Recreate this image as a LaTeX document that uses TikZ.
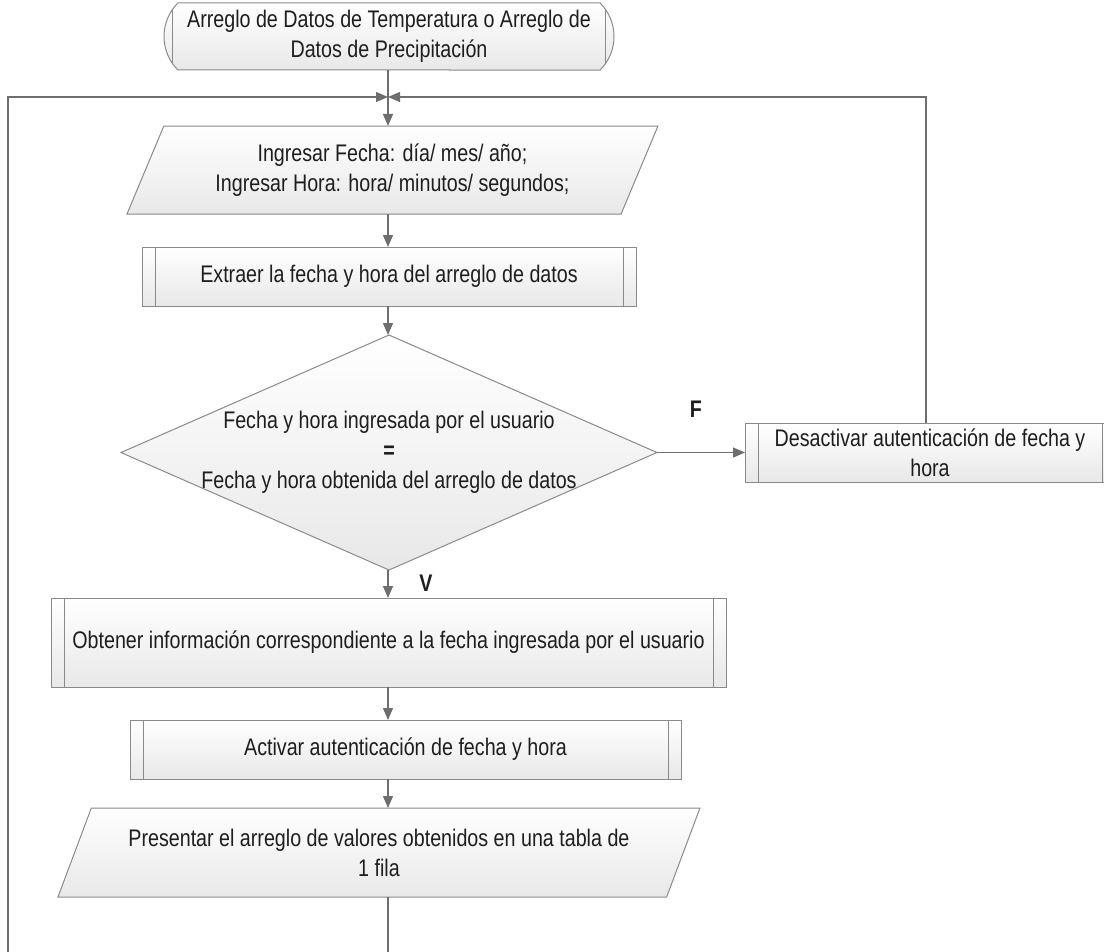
\documentclass[tikz,border=0pt]{standalone}
\usepackage{fontspec}
\setmainfont{Liberation Sans}[FakeStretch=0.82]
\usetikzlibrary{shapes.geometric,shapes.misc,arrows.meta,positioning,calc}
\definecolor{linegray}{HTML}{6E6E6E}
\definecolor{boxgray}{HTML}{8A8A8A}
\definecolor{txtgray}{HTML}{1E1E1E}
\definecolor{shadegray}{HTML}{E8E8E8}
\newcommand{\sidebars}[1]{%
  \draw[boxgray,line width=1pt]
    ([xshift=#1]path picture bounding box.north west) -- ([xshift=#1]path picture bounding box.south west)
    ([xshift=-#1]path picture bounding box.north east) -- ([xshift=-#1]path picture bounding box.south east);}
\tikzset{
  flow/.style={draw=linegray,line width=1.3pt,-{Triangle[length=12pt,width=10pt]}},
  link/.style={draw=linegray,line width=1.3pt},
  base/.style={draw=boxgray,line width=1pt,top color=white,bottom color=shadegray,
    text=txtgray,align=center,inner sep=0pt,outer sep=0pt,
    font=\fontsize{24}{30}\selectfont},
  proc/.style args={#1,#2}{base,rectangle,minimum width=#1pt,minimum height=#2pt,
    path picture={\sidebars{13pt}}},
  io/.style args={#1,#2}{base,trapezium,trapezium left angle=55,trapezium right angle=125,
    trapezium stretches body,minimum width=#1pt,minimum height=#2pt},
  decision/.style={base,diamond,shape aspect=2.28,inner xsep=-25pt,
    minimum width=536pt,minimum height=235pt},
  terminal/.style={base,rounded rectangle,rounded rectangle arc length=90,
    minimum width=450pt,minimum height=67pt,path picture={\sidebars{13pt}}},
  tag/.style={font=\bfseries\fontsize{24}{30}\selectfont,text=txtgray}
}
\begin{document}
\begin{tikzpicture}[x=1pt,y=-1pt]
  \useasboundingbox (0,0) rectangle (1104,952);
  \clip (0,0) rectangle (1104,952);

  \node[terminal] (term) at (389,36.5) {Arreglo de Datos de Temperatura o Arreglo de\\ Datos de Precipitación};
  \node[io={531,88},below=56pt of term,xshift=3.5pt] (ingreso) {Ingresar Fecha: día/ mes/ año;\\ Ingresar Hora: hora/ minutos/ segundos;};
  \node[proc={494,59},below=33pt of ingreso,xshift=-3.5pt] (extraer) {Extraer la fecha y hora del arreglo de datos};
  \node[decision,below=29pt of extraer] (comp) {Fecha y hora ingresada por el usuario\\ \textbf{=}\\ Fecha y hora obtenida del arreglo de datos};
  \node[proc={370,59},right=88pt of comp] (desact) {Desactivar autenticación de fecha y\\ hora};
  \node[proc={675,89},below=28pt of comp,xshift=-0.5pt] (obtener) {Obtener información correspondiente a la fecha ingresada por el usuario};
  \node[proc={551,59},below=33pt of obtener,xshift=17pt] (activar) {Activar autenticación de fecha y hora};
  \node[io={642,89},below=29pt of activar,xshift=-26.5pt] (tabla) {Presentar el arreglo de valores obtenidos en una tabla de\\ 1 fila};

  \coordinate (merge) at (388,97);
  \coordinate (back) at (8,1000);

  % main column
  \draw[link] (merge |- term.south) -- (merge);
  \draw[flow] (merge) -- (merge |- ingreso.north);
  \draw[flow] (merge |- ingreso.south) -- (merge |- extraer.north);
  \draw[flow] (merge |- extraer.south) -- (merge |- comp.north);
  \draw[flow] (merge |- comp.south) -- (merge |- obtener.north);
  \draw[flow] (merge |- obtener.south) -- (merge |- activar.north);
  \draw[flow] (merge |- activar.south) -- (merge |- tabla.north);

  % branches and loops back to the input
  \draw[flow] (comp.east) -- (desact.west);
  \draw[flow] ([xshift=-4pt]desact.north) |- (merge);
  \draw[flow] (merge |- tabla.south) -- (merge |- back) -- (back) |- (merge);

  \node[tag] (labF) at ($(comp.east)+(39,-43)$) {F};
  \node[tag] (labV) at ($(comp.south)+(37,13)$) {V};
\end{tikzpicture}
\end{document}
